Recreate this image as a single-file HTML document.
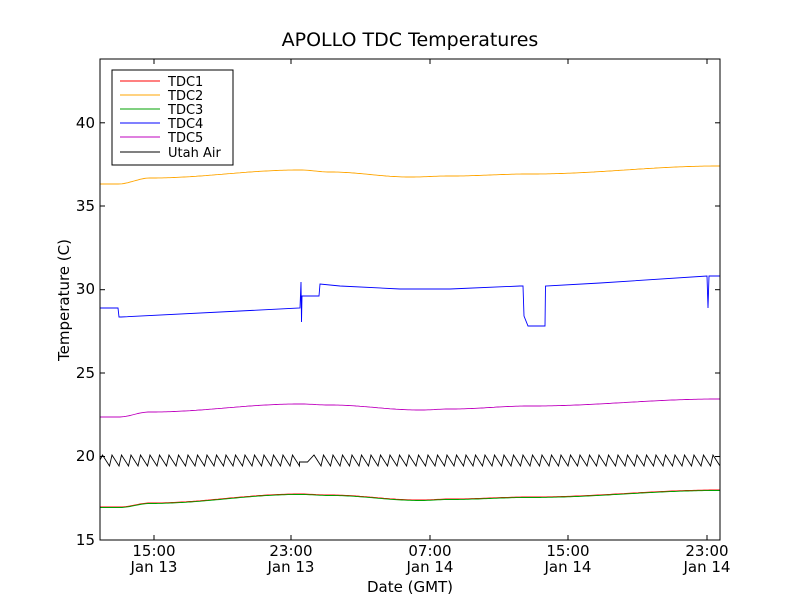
<!DOCTYPE html>
<html><head><meta charset="utf-8"><style>
body{margin:0;background:#fff}
svg{display:block;font-family:"DejaVu Sans","Liberation Sans",sans-serif}
</style></head><body>
<svg id="s" width="800" height="600" xmlns="http://www.w3.org/2000/svg">
<rect width="800" height="600" fill="#fff"/>
<text x="410" y="46" font-size="19" text-anchor="middle">APOLLO TDC Temperatures</text>
<g id="series" fill="none" stroke-width="0.9"></g>
<rect x="100" y="59" width="620" height="481" fill="none" stroke="#000" stroke-width="1"/>
<g id="ticks" stroke="#000" stroke-width="1"></g>
<g font-size="15" text-anchor="middle">
<text x="154" y="556">15:00</text><text x="154" y="572">Jan 13</text>
<text x="291" y="556">23:00</text><text x="291" y="572">Jan 13</text>
<text x="430" y="556">07:00</text><text x="430" y="572">Jan 14</text>
<text x="568" y="556">15:00</text><text x="568" y="572">Jan 14</text>
<text x="707" y="556">23:00</text><text x="707" y="572">Jan 14</text>
<text x="410" y="592">Date (GMT)</text>
</g>
<g font-size="15" text-anchor="end">
<text x="95" y="545">15</text><text x="95" y="461">20</text><text x="95" y="378">25</text>
<text x="95" y="294">30</text><text x="95" y="211">35</text><text x="95" y="128">40</text>
</g>
<text transform="translate(69,300) rotate(-90)" font-size="15" text-anchor="middle">Temperature (C)</text>
<rect x="112" y="70" width="121" height="95" fill="#fff" stroke="#000"/>
<g font-size="13">
<line x1="120" y1="81" x2="160" y2="81" stroke="#f00"/><text x="168" y="86">TDC1</text>
<line x1="120" y1="95" x2="160" y2="95" stroke="#ffa500"/><text x="168" y="100">TDC2</text>
<line x1="120" y1="109" x2="160" y2="109" stroke="#00a000"/><text x="168" y="114">TDC3</text>
<line x1="120" y1="123" x2="160" y2="123" stroke="#00f"/><text x="168" y="128">TDC4</text>
<line x1="120" y1="137" x2="160" y2="137" stroke="#bf00bf"/><text x="168" y="142">TDC5</text>
<line x1="120" y1="152" x2="160" y2="152" stroke="#000"/><text x="168" y="157">Utah Air</text>
</g>
</svg>
<script>
var NS="http://www.w3.org/2000/svg";
function interp(pts,x){for(var i=0;i<pts.length-1;i++){if(x<=pts[i+1][0]){var a=pts[i],b=pts[i+1];var t=(x-a[0])/(b[0]-a[0]);var s=(1-Math.cos(Math.PI*t))/2;return a[1]+(b[1]-a[1])*s;}}return pts[pts.length-1][1];}
function smooth(pts){var d="";for(var x=100;x<=720;x+=2){d+=(x==100?"M":"L")+x+","+interp(pts,x).toFixed(1);}return d;}
function add(d,c){var p=document.createElementNS(NS,"path");p.setAttribute("d",d);p.setAttribute("stroke",c);document.getElementById("series").appendChild(p);}
add(smooth([[100,184],[118,184],[150,178],[300,170],[330,172],[410,177],[450,176],[530,174],[720,166]]),"#ffa500");
add(smooth([[100,417],[118,417],[150,412],[300,404],[330,405],[420,410],[450,409],[530,406],[720,399]]),"#bf00bf");
add(smooth([[100,507],[120,507],[150,503],[300,494],[330,495],[420,500],[450,499],[530,497],[720,490]]),"#f00");
add(smooth([[100,507.5],[120,507.5],[150,503.5],[300,494.5],[330,495.5],[420,500.5],[450,499.5],[530,497.5],[720,490.5]]),"#00a000");
add("M100,308 L118,308 L119,317 L121,317 L300,308 L301,282 L301.5,322 L302,296 L319,296 L320,284 L340,286 L400,289 L450,289 L520,286 L523,286 L524,316 L528,326 L545,326 L545.5,286 L600,283 L707,276 L708,308 L709,276 L720,276","#00f");
var d="M100,460";var x=100,up=true;
while(x<720){if(x>=296&&x<=308){d+=" L"+x+",462";x+=4;continue;}
x+=up?2.5:7;d+=" L"+x.toFixed(1)+","+(up?455:466);up=!up;}
add(d,"#000");
var t=document.getElementById("ticks"),h="";
[154,291,430,568,707].forEach(function(x){h+='<line x1="'+x+'" y1="540" x2="'+x+'" y2="535"/><line x1="'+x+'" y1="59" x2="'+x+'" y2="64"/>';});
[540,456.5,373,289.7,206,122.8].forEach(function(y){h+='<line x1="100" y1="'+y+'" x2="105" y2="'+y+'"/><line x1="720" y1="'+y+'" x2="715" y2="'+y+'"/>';});
t.innerHTML=h;
</script>
</body></html>
